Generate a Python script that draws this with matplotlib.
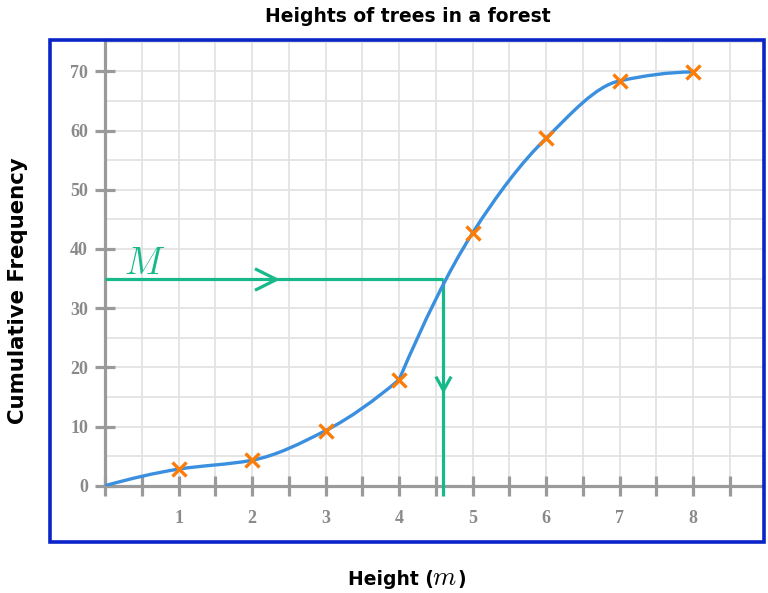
import numpy as np
import matplotlib
matplotlib.use("Agg")
import matplotlib.pyplot as plt
from matplotlib.path import Path
from matplotlib.patches import PathPatch, Rectangle
from matplotlib.markers import MarkerStyle

# ---------------- data ----------------
heights = [0, 1, 2, 3, 4, 5, 6, 7, 8]
cum_freq = [0, 2.8, 4.3, 9.3, 17.9, 42.7, 58.7, 68.4, 69.9]
median_cf = 35
median_height = 4.6
x_tick_labels = ["", "1", "2", "3", "4", "5", "6", "7", "8"]
y_ticks = [0, 10, 20, 30, 40, 50, 60, 70]

# ---------------- styling ----------------
W, H = 768, 593
DPI = 100
BLUE_CURVE = "#3a8fde"
ORANGE = "#fb7d07"
GREEN = "#17b98a"
AXIS_GRAY = "#9a9a9a"
GRID = "#e3e3e3"
FRAME = "#0a24c8"

plt.rcParams["mathtext.fontset"] = "cm"

fig = plt.figure(figsize=(W / DPI, H / DPI), dpi=DPI)

def px_box(left, top, right, bottom):
    return [left / W, 1 - bottom / H, (right - left) / W, (bottom - top) / H]

ax = fig.add_axes(px_box(105, 40, 763, 485.7))
ax.set_xlim(0, 8.95)
ax.set_ylim(0, 75.3)

# grid
for gx in np.arange(0.5, 9.0, 0.5):
    ax.axvline(gx, color=GRID, lw=1.3, zorder=0)
for gy in np.arange(5, 76, 5):
    ax.axhline(gy, color=GRID, lw=1.3, zorder=0)

# spines
for s in ["top", "right"]:
    ax.spines[s].set_visible(False)
for s in ["left", "bottom"]:
    ax.spines[s].set_color(AXIS_GRAY)
    ax.spines[s].set_linewidth(2.3)
    ax.spines[s].set_zorder(2)

xt = np.arange(0, 9.0, 0.5)
ax.set_xticks(xt)
ax.set_xticklabels([x_tick_labels[int(v)] if float(v).is_integer() else "" for v in xt])
ax.set_yticks(y_ticks)
ax.set_yticklabels([str(v) for v in y_ticks])
ax.tick_params(axis="both", direction="inout", length=14.5, width=2.3, color=AXIS_GRAY,
               labelcolor="#8a8a8a")
ax.tick_params(axis="x", pad=10)
ax.tick_params(axis="y", pad=5)
for lab in ax.get_xticklabels() + ax.get_yticklabels():
    lab.set_fontfamily("Liberation Serif")
    lab.set_fontweight("bold")
    lab.set_fontsize(13)

# ---------------- smooth curve (monotone cubic, Bezier segments) ----------------
def pchip_slopes(x, y):
    x = np.asarray(x, float); y = np.asarray(y, float)
    h = np.diff(x); d = np.diff(y) / h
    n = len(x)
    m = np.zeros(n)
    for k in range(1, n - 1):
        if d[k - 1] * d[k] <= 0:
            m[k] = 0
        else:
            w1 = 2 * h[k] + h[k - 1]
            w2 = h[k] + 2 * h[k - 1]
            m[k] = (w1 + w2) / (w1 / d[k - 1] + w2 / d[k])
    def end(h0, h1, d0, d1):
        s = ((2 * h0 + h1) * d0 - h0 * d1) / (h0 + h1)
        if np.sign(s) != np.sign(d0):
            s = 0
        elif np.sign(d0) != np.sign(d1) and abs(s) > abs(3 * d0):
            s = 3 * d0
        return s
    m[0] = end(h[0], h[1], d[0], d[1])
    m[-1] = end(h[-1], h[-2], d[-1], d[-2])
    return m

def bezier_path(x, y):
    m = pchip_slopes(x, y)
    verts = [(x[0], y[0])]
    codes = [Path.MOVETO]
    for k in range(len(x) - 1):
        hk = x[k + 1] - x[k]
        verts += [(x[k] + hk / 3, y[k] + m[k] * hk / 3),
                  (x[k + 1] - hk / 3, y[k + 1] - m[k + 1] * hk / 3),
                  (x[k + 1], y[k + 1])]
        codes += [Path.CURVE4] * 3
    return verts, codes

# the curve has a visible corner at the 4 m point: draw as two smooth pieces
k4 = heights.index(4)
v1, c1 = bezier_path(heights[:k4 + 1], cum_freq[:k4 + 1])
v2, c2 = bezier_path(heights[k4:], cum_freq[k4:])
verts = v1 + v2[1:]
codes = c1 + c2[1:]
curve = PathPatch(Path(verts, codes), fill=False, edgecolor=BLUE_CURVE, lw=2.4,
                  zorder=4, capstyle="round", joinstyle="round")
ax.add_patch(curve)

# median guide lines
ax.plot([0, median_height], [median_cf, median_cf], color=GREEN, lw=2.3, zorder=3,
        solid_capstyle="butt")
ax.plot([median_height, median_height], [median_cf, -1.7], color=GREEN, lw=2.3, zorder=3,
        clip_on=False, solid_capstyle="butt")

chev_right = Path([(-1, 0.5), (0, 0), (-1, -0.5)], [Path.MOVETO, Path.LINETO, Path.LINETO])
chev_down = Path([(-0.55, 1), (0, 0), (0.55, 1)], [Path.MOVETO, Path.LINETO, Path.LINETO])
ax.plot([median_height / 2 + 0.03], [median_cf], marker=MarkerStyle(chev_right), ms=31,
        mec=GREEN, mew=2.3, mfc="none", ls="none", zorder=3)
ax.plot([median_height], [16.1], marker=MarkerStyle(chev_down), ms=20,
        mec=GREEN, mew=2.3, mfc="none", ls="none", zorder=3)

ax.text(0.26, 35.8, r"$M$", color=GREEN, fontsize=27, ha="left", va="baseline", zorder=5)

# data markers
ax.plot(heights[1:], cum_freq[1:], ls="none", marker="x", ms=10, mew=2.4, color=ORANGE, zorder=5)

# titles
fig.text(408 / W, 1 - 17 / H, "Heights of trees in a forest", ha="center", va="center",
         fontsize=13.5, fontweight="bold", family="DejaVu Sans")
fig.text(18 / W, 1 - 291 / H, "Cumulative Frequency", ha="center", va="center",
         rotation=90, fontsize=15.3, fontweight="bold", family="DejaVu Sans")

# x label: "Height (" + italic m + ")"
fig.canvas.draw()
renderer = fig.canvas.get_renderer()
xl_y = 1 - 585 / H
parts = [("Height (", dict(fontsize=13.5, fontweight="bold", family="DejaVu Sans")),
         (r"$m$", dict(fontsize=19)),
         (")", dict(fontsize=13.5, fontweight="bold", family="DejaVu Sans"))]
texts = [fig.text(0, xl_y, s, ha="left", va="baseline", **kw) for s, kw in parts]
widths = [t.get_window_extent(renderer).width for t in texts]
gaps = [-1.5, 0.5, 0]
total = sum(widths) + sum(gaps)
x0 = 407 - total / 2
for t, w, g in zip(texts, widths, gaps):
    t.set_x(x0 / W)
    x0 += w + g

# blue frame
fig.patches.append(Rectangle((50 / W, 1 - 542 / H), (764 - 50) / W, (542 - 40) / H,
                             transform=fig.transFigure, fill=False, edgecolor=FRAME,
                             lw=2.6, zorder=10))

fig.savefig("out.png", dpi=DPI)
